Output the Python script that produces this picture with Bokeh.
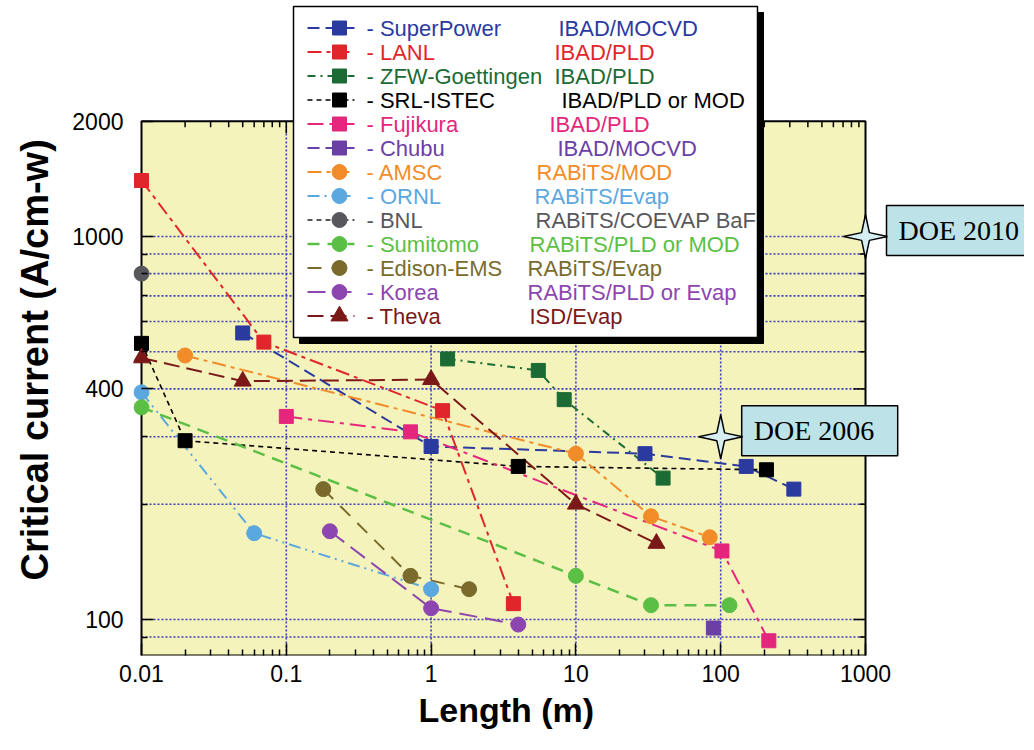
import numpy as np
from bokeh.plotting import figure
from bokeh.models import Range1d, FixedTicker, CustomJSTickFormatter, Title, LogAxis
from bokeh.embed import file_html
from bokeh.resources import INLINE
from bokeh.core.properties import value

# ---------------- data ----------------
series_names = ["SuperPower", "LANL", "ZFW-Goettingen", "SRL-ISTEC", "Fujikura", "Chubu",
                "AMSC", "ORNL", "BNL", "Sumitomo", "Edison-EMS", "Korea", "Theva"]
series_process = ["IBAD/MOCVD", "IBAD/PLD", "IBAD/PLD", "IBAD/PLD or MOD", "IBAD/PLD",
                  "IBAD/MOCVD", "RABiTS/MOD", "RABiTS/Evap", "RABiTS/COEVAP BaF",
                  "RABiTS/PLD or MOD", "RABiTS/Evap", "RABiTS/PLD or Evap", "ISD/Evap"]

superpower_len = [0.05, 1.0, 30, 150, 320]
superpower_ic = [560, 283, 271, 251, 219]
lanl_len = [0.01, 0.07, 1.2, 3.7]
lanl_ic = [1400, 530, 351, 110]
zfw_len = [1.3, 5.5, 8.3, 40]
zfw_ic = [479, 447, 375, 234]
srl_len = [0.01, 0.02, 4.0, 207]
srl_ic = [526, 293, 251, 246]
fujikura_len = [0.1, 0.72, 102, 215]
fujikura_ic = [339, 309, 151, 88]
chubu_len = [89]
chubu_ic = [95]
amsc_len = [0.02, 10, 33, 84]
amsc_ic = [489, 271, 186, 164]
ornl_len = [0.01, 0.06, 1.0]
ornl_ic = [392, 168, 120]
bnl_len = [0.01]
bnl_ic = [800]
sumitomo_len = [0.01, 10, 33, 115]
sumitomo_ic = [358, 130, 109, 109]
edison_len = [0.18, 0.72, 1.83]
edison_ic = [219, 130, 120]
korea_len = [0.2, 1.0, 4.0]
korea_ic = [170, 107, 97]
theva_len = [0.01, 0.05, 1.0, 10, 36]
theva_ic = [482, 419, 423, 200, 158]

doe_len = [100, 1000]
doe_ic = [300, 1000]
doe_labels = ["DOE 2006", "DOE 2010"]

x_major = [0.01, 0.1, 1, 10, 100, 1000]
x_minor = [m * 10.0 ** e for e in range(-2, 3) for m in range(2, 10)]
y_major = [100, 400, 1000, 2000]
y_minor = [90, 200, 300, 500, 600, 700, 800, 900]
y_grid = [90, 100, 200, 300, 400, 500, 600, 700, 800, 900, 1000]
x_grid = [0.1, 1, 10, 100]

x_title = "Length (m)"
y_title = "Critical current (A/cm-w)"

lengths = [superpower_len, lanl_len, zfw_len, srl_len, fujikura_len, chubu_len, amsc_len,
           ornl_len, bnl_len, sumitomo_len, edison_len, korea_len, theva_len]
currents = [superpower_ic, lanl_ic, zfw_ic, srl_ic, fujikura_ic, chubu_ic, amsc_ic,
            ornl_ic, bnl_ic, sumitomo_ic, edison_ic, korea_ic, theva_ic]

# ---------------- styles ----------------
colors = ["#2b3a9f", "#e0262b", "#1c6b35", "#000000", "#e5267d", "#6a3fa6", "#f28c28",
          "#5ba7df", "#58585c", "#5cbf45", "#7a6b2d", "#8d45b0", "#7b1818"]
markers = ["square"] * 6 + ["circle"] * 6 + ["triangle"]
dashes = ["12 6", "14 5 4 5", "8 5 2 5", "5 4", "16 6 4 6", "12 6", "14 5 4 5",
          "12 5 2 5 2 5", "5 4", "12 8", "14 10", "18 8", "16 7"]
widths = [2, 2, 2, 1.6, 2, 2, 2, 2, 2, 2.5, 2, 2, 2]
msizes = {"square": 14, "circle": 15, "triangle": 17}

YELLOW = "#f5f3bc"
GRID = "#3b3bc4"
FONT = "Liberation Sans"

# ---------------- geometry (canvas px) ----------------
W, H = 1024, 742
FL = 133                   # frame left (a little left of the plot box)
AX = 141                   # px of x = 0.01 (plot box left)
FB = 655                   # frame / plot box bottom
XPD, YPD = 144.8, 383.0    # px per decade


def dx(X):
    return 10 ** (-2.0 + (X - AX) / XPD)


def dy(Y):
    return 10 ** (3.0 - (Y - 236) / YPD)


def px(v):
    return AX + (np.log10(v) + 2.0) * XPD


def py(v):
    return 236 + (3.0 - np.log10(v)) * YPD


X_BOX = (0.01, 1000)
Y_BOX = (dy(FB), 2000)

p = figure(width=W, height=H, x_axis_type="log", y_axis_type="log",
           x_range=Range1d(dx(FL), dx(W)), y_range=Range1d(dy(FB), dy(0)),
           output_backend="svg", toolbar_location=None, title=None,
           min_border_left=FL, min_border_right=0, min_border_top=0,
           min_border_bottom=H - FB)
p.outline_line_color = None
p.xgrid.visible = False
p.ygrid.visible = False

fmt = "return tick.toString()"
xax = p.xaxis[0]
yax = p.yaxis[0]
xax.ticker = FixedTicker(ticks=x_major, minor_ticks=x_minor)
xax.formatter = CustomJSTickFormatter(code=fmt)
# tick marks of the y axis sit on the plot box edge (x = 0.01)
yax.ticker = FixedTicker(ticks=y_major, minor_ticks=y_minor)
yax.formatter = CustomJSTickFormatter(code="return ''")
yax.fixed_location = X_BOX[0]
for ax in (xax, yax):
    ax.axis_line_color = None
    ax.major_tick_in = 12
    ax.major_tick_out = 0
    ax.minor_tick_in = 6
    ax.minor_tick_out = 0
    ax.major_tick_line_width = 1.5
    ax.minor_tick_line_width = 1.5
    ax.major_tick_line_color = "black"
    ax.minor_tick_line_color = "black"
    ax.major_label_text_font = FONT
    ax.major_label_text_font_size = "23px"
    ax.major_label_text_color = "black"
xax.major_label_standoff = 9

# y tick labels: a second log axis in the left panel
yax2 = LogAxis(ticker=FixedTicker(ticks=y_major),
               formatter=CustomJSTickFormatter(code=fmt),
               axis_line_color=None, major_tick_in=0, major_tick_out=0,
               minor_tick_in=0, minor_tick_out=0, major_label_standoff=10,
               major_label_text_font=FONT, major_label_text_font_size="23px",
               major_label_text_color="black")
p.add_layout(yax2, "left")

# axis titles
p.add_layout(Title(text=y_title, align="left", offset=75, vertical_align="top",
                   standoff=24, text_font=FONT, text_font_size="38px",
                   text_font_style="bold", text_color="black"), "left")
p.add_layout(Title(text=x_title, align="left", offset=285, vertical_align="top",
                   standoff=13, text_font=FONT, text_font_size="34px",
                   text_font_style="bold", text_color="black"), "below")

# plot area background
p.quad(left=[X_BOX[0]], right=[X_BOX[1]], bottom=[Y_BOX[0]], top=[Y_BOX[1]],
       fill_color=YELLOW, line_color=None)

# grid lines
p.segment(x0=[X_BOX[0]] * len(y_grid), x1=[X_BOX[1]] * len(y_grid), y0=y_grid, y1=y_grid,
          line_color=GRID, line_width=1.6, line_dash="2 2")
p.segment(x0=x_grid, x1=x_grid, y0=[Y_BOX[0]] * len(x_grid), y1=[Y_BOX[1]] * len(x_grid),
          line_color=GRID, line_width=1.6, line_dash="2 2")

# top / right tick marks (inside)
p.ray(x=x_major[1:-1], y=[Y_BOX[1]] * 4, length=12, length_units="screen",
      angle=-np.pi / 2, line_color="black", line_width=1.5)
p.ray(x=x_minor, y=[Y_BOX[1]] * len(x_minor), length=6, length_units="screen",
      angle=-np.pi / 2, line_color="black", line_width=1.5)
p.ray(x=[X_BOX[1]] * 3, y=y_major[:3], length=12, length_units="screen",
      angle=np.pi, line_color="black", line_width=1.5)
p.ray(x=[X_BOX[1]] * len(y_minor), y=y_minor, length=6, length_units="screen",
      angle=np.pi, line_color="black", line_width=1.5)

# plot border
p.quad(left=[X_BOX[0]], right=[X_BOX[1]], bottom=[Y_BOX[0]], top=[Y_BOX[1]],
       fill_color=None, line_color="black", line_width=2)

# data series
for i in range(len(series_names)):
    xs, ys = lengths[i], currents[i]
    if len(xs) > 1:
        p.line(xs, ys, line_color=colors[i], line_width=widths[i], line_dash=dashes[i])
for i in range(len(series_names)):
    p.scatter(lengths[i], currents[i], marker=markers[i], size=msizes[markers[i]],
              fill_color=colors[i], line_color=colors[i])

# ---------------- legend ----------------
LEG_L, LEG_T, LEG_R, LEG_B = 293, 6, 757, 337
SH = 6
p.quad(left=[dx(LEG_L + SH)], right=[dx(LEG_R + SH)], top=[dy(LEG_T + SH)],
       bottom=[dy(LEG_B + SH)], fill_color="black", line_color="black")
p.quad(left=[dx(LEG_L)], right=[dx(LEG_R)], top=[dy(LEG_T)], bottom=[dy(LEG_B)],
       fill_color="white", line_color="black", line_width=1.5)

row_y = [27.5 + 24 * i for i in range(len(series_names))]
proc_x = [558, 554, 554, 561, 549, 557, 536, 534, 535, 529, 527, 527, 529]
for i in range(len(series_names)):
    yy = dy(row_y[i])
    p.line([dx(307), dx(354)], [yy, yy], line_color=colors[i], line_width=widths[i],
           line_dash=dashes[i])
    p.scatter([dx(339)], [yy], marker=markers[i], size=msizes[markers[i]],
              fill_color=colors[i], line_color=colors[i])

p.text(x=[dx(366)] * len(series_names), y=[dy(v) for v in row_y],
       text=["- " + n for n in series_names], text_color=colors,
       text_font=value(FONT), text_font_size="22px", text_baseline="middle",
       text_align="left")
p.text(x=[dx(v) for v in proc_x], y=[dy(v) for v in row_y],
       text=series_process, text_color=colors,
       text_font=value(FONT), text_font_size="22px", text_baseline="middle",
       text_align="left")

# ---------------- DOE targets ----------------
ang = np.arange(8) * np.pi / 4
rad = np.where(np.arange(8) % 2 == 0, 22.0, 5.5)
for i in range(len(doe_len)):
    sx, sy = px(doe_len[i]), py(doe_ic[i])
    p.quad(left=[dx(sx + 21)], right=[dx(sx + 177)], top=[dy(sy - 31)],
           bottom=[dy(sy + 19)], fill_color="#bde2e7", line_color="black", line_width=1.5)
    p.text(x=[dx(sx + 33)], y=[dy(sy - 6)], text=[doe_labels[i]], text_color="black",
           text_font=value("Liberation Serif"), text_font_size="28px",
           text_baseline="middle", text_align="left")
    xs = 10 ** (np.log10(doe_len[i]) + rad * np.cos(ang) / XPD)
    ys = 10 ** (np.log10(doe_ic[i]) + rad * np.sin(ang) / YPD)
    p.patch(list(xs), list(ys), fill_color="#d6eef1", line_color="black", line_width=1.5)

open("out.html", "w").write(file_html(p, INLINE))
